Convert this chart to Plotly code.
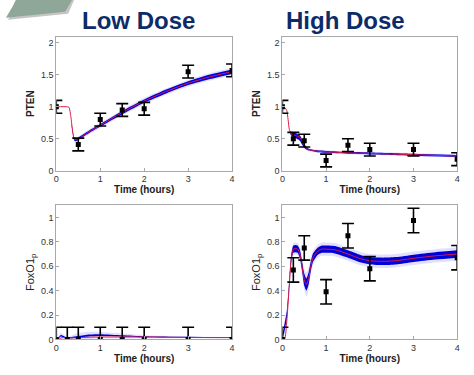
import plotly.graph_objects as go

# ---------------- data ----------------
obs_t = [0, 0.25, 0.5, 1, 1.5, 2, 3, 4]
obs_t_ld_pten = [0, 0.5, 1, 1.5, 2, 3, 4]
ld_pten_obs = [1.0, 0.41, 0.80, 0.95, 0.97, 1.55, 1.57]
hd_pten_obs = [1.0, 0.50, 0.47, 0.16, 0.40, 0.33, 0.33, 0.18]
ld_fox_obs = [0, 0, 0, 0, 0, 0, 0, 0]
hd_fox_obs = [0.0, 0.57, 0.75, 0.39, 0.85, 0.58, 0.975, 0.67]
obs_err = 0.1

# model curves (red) and ensemble bands (blue)
ld_pten_t = [0, 0.25, 0.29, 0.33, 0.37, 0.41, 0.45, 0.5, 0.75, 1, 1.5, 2, 2.5, 3, 3.5, 4]
ld_pten_model = [1.0, 1.0, 0.99, 0.85, 0.62, 0.49, 0.48, 0.5, 0.61, 0.71, 0.91, 1.09, 1.24, 1.37, 1.47, 1.55]
ld_pten_band_t = [0.35, 0.37, 0.41, 0.45, 0.5, 0.75, 1, 1.5, 2, 2.5, 3, 3.5, 4]
ld_pten_band_mid = [0.72, 0.62, 0.49, 0.48, 0.5, 0.61, 0.71, 0.91, 1.09, 1.24, 1.37, 1.47, 1.55]
ld_pten_dark = [0.02, 0.02, 0.02, 0.02, 0.02, 0.02, 0.02, 0.025, 0.025, 0.03, 0.03, 0.035, 0.035]
ld_pten_light = [0.03, 0.03, 0.03, 0.03, 0.035, 0.04, 0.04, 0.045, 0.05, 0.05, 0.055, 0.06, 0.06]

hd_pten_t = [0, 0.05, 0.1, 0.13, 0.16, 0.2, 0.3, 0.4, 0.45, 0.5, 0.55, 0.6, 0.8, 1, 1.5, 2, 3, 4]
hd_pten_model = [1.0, 0.99, 0.94, 0.8, 0.64, 0.58, 0.55, 0.52, 0.46, 0.39, 0.35, 0.33, 0.305, 0.295, 0.28, 0.27, 0.25, 0.23]
hd_pten_band_t = [0.18, 0.2, 0.3, 0.4, 0.45, 0.5, 0.55, 0.6, 0.8, 1, 1.5, 2, 3, 4]
hd_pten_band_mid = [0.6, 0.58, 0.55, 0.51, 0.45, 0.39, 0.35, 0.33, 0.305, 0.295, 0.28, 0.27, 0.25, 0.23]
hd_pten_dark = [0.02, 0.03, 0.04, 0.04, 0.04, 0.03, 0.02, 0.015, 0.015, 0.015, 0.015, 0.015, 0.015, 0.015]
hd_pten_light = [0.03, 0.04, 0.05, 0.05, 0.05, 0.04, 0.03, 0.025, 0.025, 0.025, 0.025, 0.025, 0.025, 0.025]

ld_fox_t = [0, 0.05, 0.1, 0.15, 0.25, 0.5, 0.75, 1, 1.5, 2, 3, 4]
ld_fox_model = [0, 0.0, 0.01, 0.015, 0.012, 0.014, 0.018, 0.02, 0.02, 0.02, 0.016, 0.015]
ld_fox_band_mid = [0, 0.01, 0.03, 0.025, 0.012, 0.022, 0.032, 0.035, 0.028, 0.022, 0.018, 0.015]
ld_fox_dark = [0, 0.005, 0.006, 0.006, 0.004, 0.006, 0.008, 0.008, 0.006, 0.004, 0.003, 0.003]
ld_fox_light = [0, 0.02, 0.025, 0.02, 0.01, 0.03, 0.03, 0.025, 0.02, 0.012, 0.006, 0.005]

hd_fox_t = [0, 0.05, 0.1, 0.15, 0.2, 0.25, 0.3, 0.35, 0.4, 0.45, 0.5, 0.55, 0.6, 0.65, 0.7, 0.8, 0.9, 1.0, 1.2,
            1.5, 1.8, 2.0, 2.3, 2.6, 3.0, 3.5, 4.0]
hd_fox_model = [0, 0.0, 0.15, 0.4, 0.65, 0.74, 0.745, 0.74, 0.7, 0.6, 0.49, 0.45, 0.5, 0.6, 0.67, 0.72, 0.74, 0.74,
                0.735, 0.7, 0.66, 0.645, 0.64, 0.645, 0.665, 0.685, 0.70]
hd_fox_band_mid = [0.02, 0.1, 0.2, 0.42, 0.66, 0.74, 0.745, 0.74, 0.7, 0.6, 0.49, 0.45, 0.5, 0.6, 0.67, 0.72, 0.74,
                   0.74, 0.735, 0.7, 0.66, 0.645, 0.64, 0.645, 0.665, 0.685, 0.70]
hd_fox_dark = [0.02, 0.03, 0.03, 0.03, 0.03, 0.03, 0.03, 0.03, 0.035, 0.04, 0.05, 0.05, 0.05, 0.04, 0.035, 0.03, 0.03,
               0.03, 0.03, 0.03, 0.03, 0.03, 0.03, 0.03, 0.03, 0.03, 0.03]
hd_fox_light = [0.05, 0.06, 0.06, 0.05, 0.05, 0.05, 0.05, 0.05, 0.06, 0.07, 0.09, 0.1, 0.09, 0.07, 0.06, 0.055, 0.055,
                0.055, 0.055, 0.055, 0.055, 0.055, 0.055, 0.055, 0.055, 0.055, 0.055]

x_ticks = [0, 1, 2, 3, 4]
titles = ["Low Dose", "High Dose"]

# ---------------- figure ----------------
W, H = 474, 375
fig = go.Figure()

panels = [
    ("", obs_t_ld_pten, ld_pten_obs, ld_pten_t, ld_pten_model, ld_pten_band_t, ld_pten_band_mid, ld_pten_dark, ld_pten_light),
    ("2", obs_t, hd_pten_obs, hd_pten_t, hd_pten_model, hd_pten_band_t, hd_pten_band_mid, hd_pten_dark, hd_pten_light),
    ("3", obs_t, ld_fox_obs, ld_fox_t, ld_fox_model, ld_fox_t, ld_fox_band_mid, ld_fox_dark, ld_fox_light),
    ("4", obs_t, hd_fox_obs, hd_fox_t, hd_fox_model, hd_fox_t, hd_fox_band_mid, hd_fox_dark, hd_fox_light),
]

for suf, ot, ov, ct, cm, bt, bm, dk, lt in panels:
    xa, ya = "x" + suf, "y" + suf
    for hw, col in [(lt, "rgba(120,120,255,0.22)"), (dk, "rgba(0,0,215,1)")]:
        up = [m + h for m, h in zip(bm, hw)]
        lo = [m - h for m, h in zip(bm, hw)]
        fig.add_trace(go.Scatter(x=bt, y=up, xaxis=xa, yaxis=ya, mode="lines",
                                 line=dict(width=0, shape="spline", smoothing=0.6),
                                 showlegend=False, hoverinfo="skip"))
        fig.add_trace(go.Scatter(x=bt, y=lo, xaxis=xa, yaxis=ya, mode="lines", fill="tonexty",
                                 fillcolor=col, line=dict(width=0, shape="spline", smoothing=0.6),
                                 showlegend=False, hoverinfo="skip"))
    fig.add_trace(go.Scatter(x=ct, y=cm, xaxis=xa, yaxis=ya, mode="lines",
                             line=dict(color="#dc1a48", width=1, shape="spline", smoothing=0.6),
                             showlegend=False))
    fig.add_trace(go.Scatter(x=ot, y=ov, xaxis=xa, yaxis=ya, mode="markers",
                             marker=dict(symbol="square", size=5, color="black"),
                             error_y=dict(type="constant", value=obs_err, color="black",
                                          thickness=1.6, width=6),
                             showlegend=False))

def px_x(p):
    return p / W

def px_y(p):
    return 1 - p / H

xl = (px_x(54), px_x(232))
xr = (px_x(283), px_x(460))
yt = (px_y(173), px_y(37))
yb = (px_y(344), px_y(208))

axis_common = dict(showline=True, mirror=True, linecolor="#a8a8a8", linewidth=1,
                   ticks="inside", ticklen=3, tickcolor="#a8a8a8", showgrid=False,
                   zeroline=False, tickfont=dict(size=9, color="#333"))
xlab = dict(text="<b>Time (hours)</b>", font=dict(size=10, color="#222"), standoff=2)

layout = dict(
    width=W, height=H, margin=dict(l=0, r=0, t=0, b=0),
    paper_bgcolor="white", plot_bgcolor="white",
    font=dict(family="Liberation Sans, Arial, sans-serif"),
)
for i, (xd, yd, yr, yticks, ylab) in enumerate([
        (xl, yt, [0, 2.1], [0, 0.5, 1, 1.5, 2], "<b>PTEN</b>"),
        (xr, yt, [0, 2.1], [0, 0.5, 1, 1.5, 2], "<b>PTEN</b>"),
        (xl, yb, [0, 1.1], [0, 0.2, 0.4, 0.6, 0.8, 1], "FoxO1<sub>p</sub>"),
        (xr, yb, [0, 1.1], [0, 0.2, 0.4, 0.6, 0.8, 1], "FoxO1<sub>p</sub>")]):
    s = "" if i == 0 else str(i + 1)
    layout["xaxis" + s] = dict(axis_common, domain=list(xd), range=[0, 4], tickvals=x_ticks,
                               anchor="y" + s, title=xlab)
    layout["yaxis" + s] = dict(axis_common, domain=list(yd), range=yr, tickvals=yticks,
                               anchor="x" + s,
                               title=dict(text=ylab, font=dict(size=10 if i < 2 else 11, color="#222"), standoff=4))
fig.update_layout(**layout)

fig.add_annotation(text="<b>" + titles[0] + "</b>", x=px_x(137), y=px_y(21), xref="paper", yref="paper",
                   showarrow=False, font=dict(size=24, color="#0d2b69"), xanchor="center", yanchor="middle")
fig.add_annotation(text="<b>" + titles[1] + "</b>", x=px_x(347), y=px_y(21), xref="paper", yref="paper",
                   showarrow=False, font=dict(size=24, color="#0d2b69"), xanchor="center", yanchor="middle")

# decorative ribbon at top-left
def pt(x, y):
    return f"{px_x(x):.4f},{px_y(y):.4f}"

fig.add_shape(type="path", xref="paper", yref="paper",
              path=f"M {pt(16,0)} L {pt(72,0)} L {pt(66,14)} L {pt(5,20)} L {pt(12,8)} Z",
              fillcolor="rgba(90,90,90,0.35)", line=dict(width=0))
fig.add_shape(type="path", xref="paper", yref="paper",
              path=f"M {pt(13,0)} L {pt(70,0)} L {pt(63,12)} L {pt(3,18)} L {pt(10,6)} Z",
              fillcolor="#8fa798", line=dict(width=0))

fig.write_html("out.html")
